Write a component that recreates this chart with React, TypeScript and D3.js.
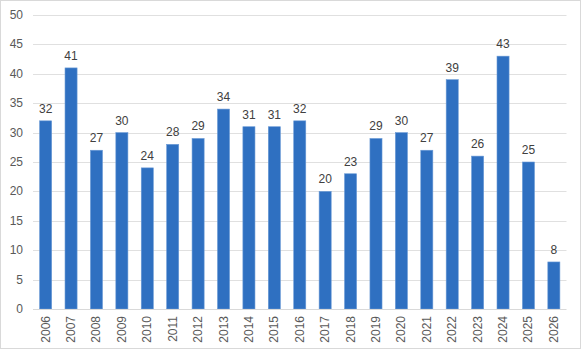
import React, { useEffect, useRef } from 'react';
import * as d3 from 'd3';

const years = ['2006', '2007', '2008', '2009', '2010', '2011', '2012', '2013', '2014', '2015', '2016',
  '2017', '2018', '2019', '2020', '2021', '2022', '2023', '2024', '2025', '2026'];
const counts = [32, 41, 27, 30, 24, 28, 29, 34, 31, 31, 32, 20, 23, 29, 30, 27, 39, 26, 43, 25, 8];
const yTicks = [0, 5, 10, 15, 20, 25, 30, 35, 40, 45, 50];

const W = 582;
const H = 351;
const FONT = '"Liberation Sans", Arial, sans-serif';

const App = () => {
  const ref = useRef<SVGSVGElement>(null);

  useEffect(() => {
    const svg = d3.select(ref.current);
    svg.selectAll('*').remove();

    // outer chart border
    svg.append('rect')
      .attr('x', 0.5).attr('y', 0.5)
      .attr('width', W - 2).attr('height', H - 3)
      .attr('fill', '#fff').attr('stroke', '#d9d9d9');

    const x = d3.scaleBand().domain(years).range([33, 566.5]).paddingInner(0.525).paddingOuter(0.26);
    const y = d3.scaleLinear().domain([0, 50]).range([309, 15]);

    // gridlines
    svg.append('g').selectAll('line')
      .data(yTicks.filter(t => t > 0))
      .enter().append('line')
      .attr('x1', 33).attr('x2', 566.5)
      .attr('y1', d => Math.round(y(d)) + 0.5).attr('y2', d => Math.round(y(d)) + 0.5)
      .attr('stroke', '#e0e0e0').attr('stroke-width', 1);

    // y labels
    svg.append('g').selectAll('text')
      .data(yTicks)
      .enter().append('text')
      .text(d => d)
      .attr('x', 23)
      .attr('y', d => y(d) + 4)
      .attr('text-anchor', 'end')
      .style('font-family', FONT).style('font-size', '12px').style('fill', '#595959');

    // bars
    svg.append('g').selectAll('rect')
      .data(years)
      .enter().append('rect')
      .attr('x', d => x(d)!)
      .attr('y', (d, i) => y(counts[i]))
      .attr('width', x.bandwidth())
      .attr('height', (d, i) => y(0) - y(counts[i]))
      .attr('fill', '#2f70c1')
      .attr('stroke', '#6a9ad6').attr('stroke-width', 0.6);

    // axis line
    svg.append('line')
      .attr('x1', 33).attr('x2', 566.5)
      .attr('y1', 309.5).attr('y2', 309.5)
      .attr('stroke', '#d9d9d9');

    // value labels
    svg.append('g').selectAll('text')
      .data(years)
      .enter().append('text')
      .text((d, i) => counts[i])
      .attr('x', d => x(d)! + x.bandwidth() / 2)
      .attr('y', (d, i) => y(counts[i]) - 8)
      .attr('text-anchor', 'middle')
      .style('font-family', FONT).style('font-size', '12px').style('fill', '#404040');

    // x labels, rotated
    svg.append('g').selectAll('text')
      .data(years)
      .enter().append('text')
      .text(d => d)
      .attr('transform', d => `translate(${x(d)! + x.bandwidth() / 2 + 4},316) rotate(-90)`)
      .attr('text-anchor', 'end')
      .style('font-family', FONT).style('font-size', '12px').style('fill', '#595959');
  }, []);

  return (
    <div style={{ position: 'absolute', left: 0, top: 0 }}>
      <svg ref={ref} width={W} height={H} style={{ display: 'block' }}></svg>
    </div>
  );
};

export default App;
